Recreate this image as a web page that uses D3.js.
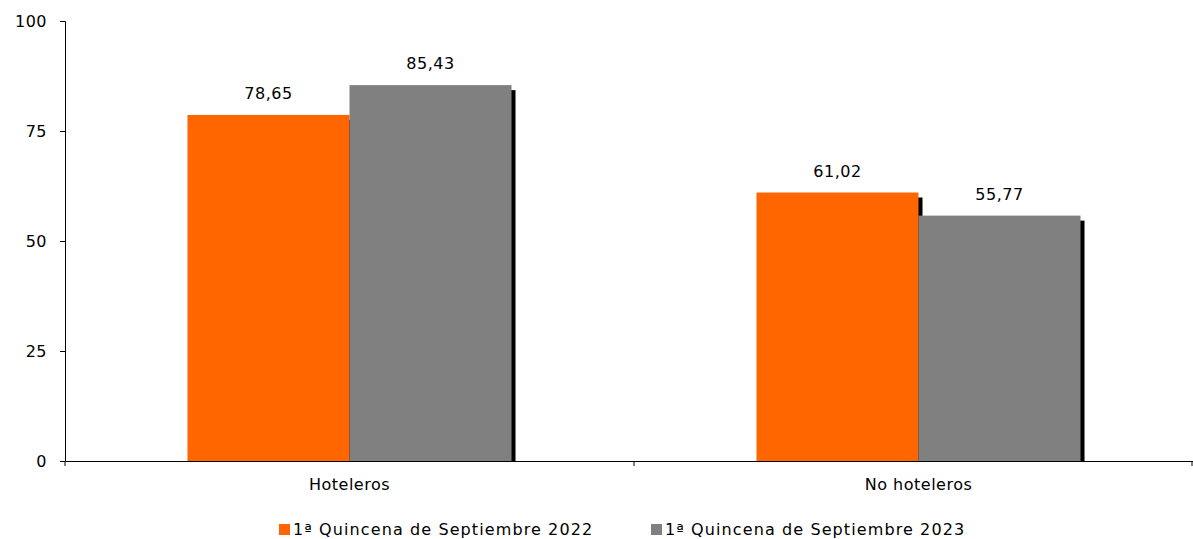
<!DOCTYPE html>
<html><head><meta charset="utf-8">
<script src="https://cdn.jsdelivr.net/npm/d3@7"></script>
<style>body{margin:0;background:#fff}text{font-family:"DejaVu Sans",sans-serif;font-size:16px;fill:#000}</style>
</head><body>
<svg id="c" width="1193" height="539"></svg>
<script>
// data
var categories = ["Hoteleros", "No hoteleros"];
var seriesNames = ["1ª Quincena de Septiembre 2022", "1ª Quincena de Septiembre 2023"];
var values2022 = [78.65, 61.02];
var values2023 = [85.43, 55.77];
var colors = ["#ff6600", "#808080"];
var yTicks = [0, 25, 50, 75, 100];

var svg = d3.select("#c");
var x = d3.scaleBand().domain(categories).range([65, 1203]);
var sub = d3.scaleBand().domain([0, 1]).range([0, x.bandwidth()]).paddingOuter(0.756);
var y = d3.scaleLinear().domain([0, 100]).range([461, 21]);
var fmt = function(v){ return v.toFixed(2).replace(".", ","); };

var series = [values2022, values2023];
series.forEach(function(vals, s){
  var g = svg.append("g");
  // shadow
  g.selectAll(".sh").data(vals).enter().append("rect")
    .attr("x", function(d,i){ return x(categories[i]) + sub(s) + 4; })
    .attr("y", function(d){ return y(d) + 5; })
    .attr("width", sub.bandwidth())
    .attr("height", function(d){ return y(0) - y(d) - 5; })
    .attr("fill", "#000");
});
series.forEach(function(vals, s){
  var g = svg.append("g");
  g.selectAll(".b").data(vals).enter().append("rect")
    .attr("x", function(d,i){ return x(categories[i]) + sub(s); })
    .attr("y", function(d){ return y(d); })
    .attr("width", sub.bandwidth())
    .attr("height", function(d){ return y(0) - y(d); })
    .attr("fill", colors[s]);
  g.selectAll(".l").data(vals).enter().append("text")
    .attr("x", function(d,i){ return x(categories[i]) + sub(s) + sub.bandwidth()/2; })
    .attr("y", function(d){ return y(d) - 16; })
    .attr("text-anchor", "middle")
    .style("letter-spacing", "0.5px")
    .text(fmt);
});

// axes
var ya = svg.append("g").attr("transform", "translate(65,0)")
  .call(d3.axisLeft(y).tickValues(yTicks).tickSize(5).tickPadding(14));
var xa = svg.append("g").attr("transform", "translate(0,461)")
  .call(d3.axisBottom(x).tickSize(0).tickPadding(18));
[ya, xa].forEach(function(a){
  a.select(".domain").attr("stroke", "#000");
  a.selectAll("text").style("font-size", "16px").style("font-family", "DejaVu Sans").style("letter-spacing", "0.5px").attr("fill", "#000");
});
ya.selectAll("text").attr("x", -18);
[65, 634, 1192].forEach(function(px){
  svg.append("line").attr("x1", px).attr("x2", px).attr("y1", 461).attr("y2", 466).attr("stroke", "#000");
});

// legend
var lx = [279, 651];
seriesNames.forEach(function(n, i){
  svg.append("rect").attr("x", lx[i]).attr("y", 524).attr("width", 11).attr("height", 11).attr("fill", colors[i]);
  svg.append("text").attr("x", lx[i] + 14).attr("y", 535).style("letter-spacing", "1.1px").text(n);
});
</script>
</body></html>
